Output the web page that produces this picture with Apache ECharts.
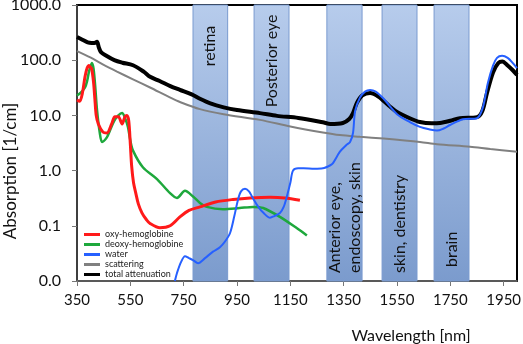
<!DOCTYPE html>
<html lang="en">
<head>
    <meta charset="UTF-8">
    <script src="https://cdn.jsdelivr.net/npm/echarts@6/dist/echarts.min.js"></script>
    <style>
        html, body {margin: 0; padding: 0; background: #fff;}
    </style>
</head>
<body>
<div id="chart" style="width: 523px;height: 344px;"></div>
<script>
    // wavelength [nm] / absorption [1/cm] pairs
    var oxyHb = [[350,19],[360,18],[370,25],[380,50],[388,72],[395,80],[400,75],[405,70],[412,40],[417,20],
        [422,10],[430,7],[447,5],[462,4.8],[480,7],[492,9.5],[505,9.5],[519,7],[530,9.5],[537,10],[544,8],
        [550,3],[555,1.2],[562,0.6],[570,0.4],[580,0.25],[594,0.17],[610,0.13],[624,0.11],[661,0.092],
        [699,0.1],[736,0.145],[770,0.19],[811,0.22],[870,0.27],[935,0.3],[1000,0.32],[1074,0.33],
        [1130,0.32],[1186,0.29]];
    var deoxyHb = [[350,23],[365,26],[380,32],[388,42],[395,62],[406,89],[412,70],[418,35],[425,12.6],
        [435,5],[444,3.3],[462,4.0],[474,5.4],[490,8],[505,10],[519,11],[530,9],[541,6.2],[550,3.5],
        [560,2.3],[597,1.15],[650,0.7],[699,0.39],[725,0.32],[755,0.43],[785,0.34],[811,0.26],[837,0.22],
        [897,0.2],[960,0.21],[1010,0.22],[1048,0.21],[1111,0.145],[1175,0.09],[1212,0.067]];
    var water = [[717,0.01],[725,0.014],[740,0.022],[755,0.028],[770,0.026],[785,0.024],[804,0.021],
        [830,0.026],[860,0.034],[886,0.041],[905,0.052],[924,0.074],[940,0.15],[954,0.3],[965,0.42],
        [980,0.47],[995,0.42],[1006,0.34],[1030,0.22],[1050,0.17],[1074,0.14],[1090,0.15],[1111,0.17],
        [1125,0.22],[1137,0.34],[1150,0.6],[1160,1.0],[1179,1.1],[1200,1.1],[1240,1.08],[1272,1.1],
        [1300,1.25],[1310,1.37],[1336,2.2],[1360,2.9],[1374,3.3],[1385,4.8],[1393,12],[1411,21],[1430,27],
        [1449,29],[1470,27],[1500,20],[1550,10.5],[1600,7.5],[1636,6.2],[1670,5.6],[1700,5.3],[1725,5.8],
        [1749,6.7],[1797,8.5],[1850,8.9],[1872,14],[1891,39],[1910,80],[1925,110],[1944,120],[1965,110],
        [1985,88],[2000,72]];
    var scattering = [[350,146],[400,112],[450,82],[500,62],[560,45],[624,32],[700,21],[736,17.5],
        [811,13],[900,10.5],[1036,8.3],[1150,6.3],[1272,4.9],[1336,4.4],[1411,4.1],[1500,3.8],[1636,3.3],
        [1700,3.0],[1824,2.7],[1900,2.45],[2000,2.2]];
    var totalAtt = [[350,263],[370,235],[390,210],[405,205],[415,205],[425,215],[432,170],[440,140],
        [460,120],[490,100],[520,90],[560,81],[600,62],[624,50],[660,42],[700,34],[736,29],[780,24],
        [811,20],[850,16.5],[900,14],[950,12.5],[1036,11],[1100,9.8],[1180,9],[1272,7.5],[1300,7.0],
        [1347,7.3],[1370,8.5],[1385,11],[1400,17],[1420,23],[1449,25.5],[1480,22],[1520,15],[1550,11.5],
        [1600,8.8],[1636,7.6],[1680,7.2],[1711,7.3],[1750,8],[1786,8.9],[1850,9.3],[1870,12],[1887,25],
        [1910,60],[1930,89],[1945,95],[1965,80],[1985,65],[2000,54]];

    // application windows [from nm, to nm, label]
    var bands = [[785,915,'retina'],[1014,1145,'Posterior eye'],[1287,1419,'Anterior eye,\nendoscopy, skin'],
        [1494,1625,'skin, dentistry'],[1689,1820,'brain']];
    var seriesNames = ['oxy-hemoglobine','deoxy-hemoglobine','water','scattering','total attenuation'];

    // where each band label sits (pixels from grid top), text runs bottom to top
    var bandLabelPos = [{align: 'center', y: 41}, {align: 'center', y: 56},
        {align: 'left', y: 268}, {align: 'left', y: 268}, {align: 'left', y: 262}];

    var font = 'Lato, "Open Sans", sans-serif';
    var chart = echarts.init(document.getElementById('chart'));

    function line(name, data, color, width, z) {
        return {
            name: name, type: 'line', data: data, showSymbol: false, smooth: 0.3,
            lineStyle: {color: color, width: width}, itemStyle: {color: color}, z: z,
            animation: false
        };
    }

    var option = {
        animation: false,
        grid: {
            left: 77, right: 6, top: 5, bottom: 63, show: true, borderColor: '#000', borderWidth: 2,
            containLabel: false, outerBoundsMode: 'none'
        },
        legend: {
            orient: 'vertical', left: 79, top: 225, itemWidth: 16, itemHeight: 3, itemGap: 1,
            icon: 'rect', data: seriesNames,
            textStyle: {fontFamily: font, fontSize: 9, color: '#222'}
        },
        xAxis: {
            type: 'value', min: 350, max: 2000, interval: 200,
            name: 'Wavelength [nm]', nameLocation: 'middle', nameGap: 47, nameMoveOverlap: false,
            nameTextStyle: {fontFamily: font, fontSize: 16, color: '#111', padding: [0, 0, 0, 228]},
            axisLine: {lineStyle: {color: '#777', width: 1.5}},
            axisTick: {length: 5, lineStyle: {color: '#777'}},
            axisLabel: {
                fontFamily: font, fontSize: 15, color: '#111', margin: 12, showMaxLabel: false,
                formatter: function (v) { return String(v); }
            },
            splitLine: {show: false}
        },
        yAxis: {
            type: 'log', logBase: 10, min: 0.01, max: 1000,
            name: 'Absorption [1/cm]', nameLocation: 'middle', nameGap: 58, nameMoveOverlap: false,
            nameTextStyle: {fontFamily: font, fontSize: 17, color: '#111', padding: [0, 56, 0, 0]},
            axisLine: {show: true, lineStyle: {color: '#555', width: 1.5}},
            axisTick: {show: true, length: 5, lineStyle: {color: '#777'}},
            minorTick: {show: false},
            axisLabel: {
                fontFamily: font, fontSize: 16, color: '#111', margin: 16,
                formatter: function (v) { return Number(v).toFixed(1); }
            },
            splitLine: {show: false}
        },
        series: [
            {
                type: 'custom', name: 'bands', data: bands, z: 1, silent: true,
                encode: {x: [0, 1]},
                renderItem: function (params, api) {
                    var cs = params.coordSys;
                    var x0 = api.coord([api.value(0), 1])[0];
                    var x1 = api.coord([api.value(1), 1])[0];
                    var pos = bandLabelPos[params.dataIndex];
                    return {
                        type: 'group',
                        children: [{
                            type: 'rect',
                            shape: {x: x0, y: cs.y, width: x1 - x0, height: cs.height},
                            style: {
                                fill: new echarts.graphic.LinearGradient(0, 0, 0, 1, [
                                    {offset: 0, color: '#b7ccec'},
                                    {offset: 1, color: '#7b9bcd'}
                                ]),
                                stroke: '#7a9bd0', lineWidth: 1
                            }
                        }, {
                            type: 'text',
                            x: (x0 + x1) / 2, y: cs.y + pos.y,
                            rotation: Math.PI / 2,
                            style: {
                                text: bands[params.dataIndex][2], fill: '#111',
                                font: '16px ' + font, align: pos.align, verticalAlign: 'middle',
                                lineHeight: 20
                            }
                        }]
                    };
                }
            },
            line('scattering', scattering, '#808080', 2, 2),
            line('total attenuation', totalAtt, '#000000', 4, 3),
            line('deoxy-hemoglobine', deoxyHb, '#1ea83c', 2.5, 4),
            line('oxy-hemoglobine', oxyHb, '#ff1a1a', 3, 5),
            line('water', water, '#2660ff', 2, 6)
        ]
    };
    chart.setOption(option);
</script>
</body>
</html>
